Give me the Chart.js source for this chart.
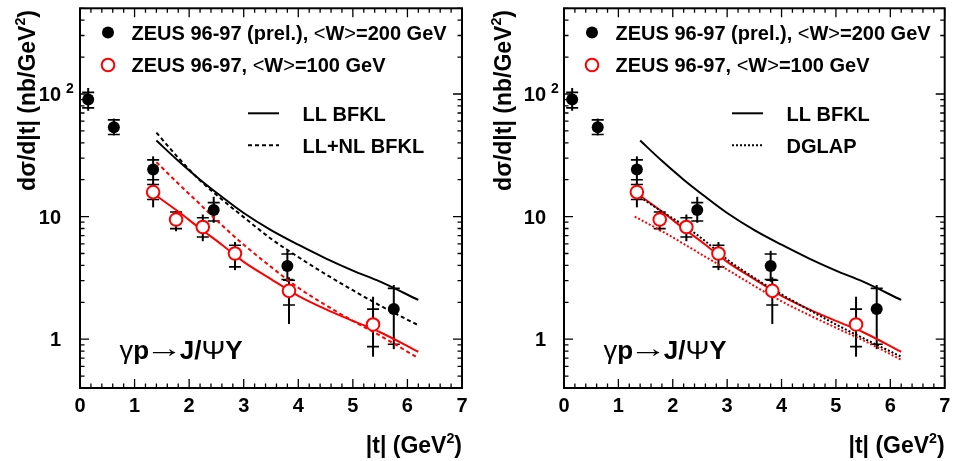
<!DOCTYPE html>
<html><head><meta charset="utf-8">
<script src="https://cdn.jsdelivr.net/npm/chart.js@4.4.0/dist/chart.umd.min.js"></script>
<style>
html,body{margin:0;padding:0;background:#fff;}
#wrap{position:relative;width:953px;height:461px;overflow:hidden;}
canvas{position:absolute;top:0;}
</style></head><body>
<div id="wrap">
<canvas id="c1" width="476" height="461" style="left:0px"></canvas>
<canvas id="c2" width="477" height="461" style="left:476px"></canvas>
</div>
<script>
// ---------- data ----------
// ZEUS 96-97 (prel.), <W>=200 GeV
const T_W200       = [0.15, 0.62, 1.34, 2.45, 3.80, 5.75];
const SIG_W200     = [90, 53.5, 24.2, 11.3, 3.95, 1.76];
const STAT_HI_W200 = [103, 61.5, 29, 13.0, 4.95, 2.6];
const STAT_LO_W200 = [77, 46.7, 20.0, 9.2, 3.07, 0.91];
const TOT_HI_W200  = [112, 63, 31, 14.5, 5.26, 2.77];
const TOT_LO_W200  = [73, 46, 18.5, 8.9, 2.94, 0.83];
// ZEUS 96-97, <W>=100 GeV
const T_W100       = [1.34, 1.76, 2.25, 2.84, 3.83, 5.37];
const SIG_W100     = [15.85, 9.46, 8.23, 5.0, 2.48, 1.32];
const STAT_HI_W100 = [18.3, 10.9, 9.8, 5.84, 3.03, 1.76];
const STAT_LO_W100 = [13.8, 7.98, 6.82, 3.89, 1.9, 0.87];
const TOT_HI_W100  = [18.8, 11.0, 10.4, 6.2, 3.2, 2.22];
const TOT_LO_W100  = [11.9, 7.6, 6.3, 3.66, 1.33, 0.72];
// theory curves
const T_CURVE        = [1.4, 1.8, 2.2, 2.6, 3.0, 3.5, 4.0, 4.5, 5.0, 5.5, 6.2];
const LL_BFKL_W200   = [41.7, 28.5, 20.0, 14.5, 10.7, 7.76, 5.9, 4.57, 3.63, 2.95, 2.09];
const LLNL_BFKL_W200 = [48.4, 30.2, 19.7, 13.8, 9.9, 6.6, 4.68, 3.39, 2.51, 1.88, 1.30];
const LL_BFKL_W100   = [14.8, 11.0, 8.0, 5.9, 4.27, 3.09, 2.26, 1.76, 1.41, 1.14, 0.79];
const LLNL_BFKL_W100 = [27.8, 18.6, 12.6, 8.5, 5.9, 3.89, 2.63, 1.9, 1.41, 1.07, 0.70];
const DGLAP_W200     = [14.4, 11.0, 8.5, 6.3, 4.47, 3.16, 2.32, 1.74, 1.32, 1.02, 0.72];
const T_DGLAP_W100   = [1.3, 1.8, 2.2, 2.6, 3.0, 3.5, 4.0, 4.5, 5.0, 5.5, 6.2];
const DGLAP_W100     = [10.0, 7.6, 6.0, 4.7, 3.7, 2.72, 2.04, 1.58, 1.24, 0.98, 0.68];
// axes
const X_MIN = 0, X_MAX = 7;
const X_TICKS = [0, 1, 2, 3, 4, 5, 6, 7];
const Y_MIN = 0.4, Y_MAX = 500;
const Y_TICKS = [1, 10, 100];
const Y_TICK_LABELS = [['1', ''], ['10', ''], ['10', '2']];
const LEGEND_W200 = 'ZEUS 96-97 (prel.), <W>=200 GeV';
const LEGEND_W100 = 'ZEUS 96-97, <W>=100 GeV';

// ---------- helpers ----------
const FAM = '"Liberation Sans", Arial, Helvetica, sans-serif';
function fnt(sz, bold) { return (bold === false ? '' : 'bold ') + sz + 'px ' + FAM; }
function drawRuns(ctx, runs, x, y, align, size) {
  let w = 0;
  const parts = runs.map(r => {
    const s = r.sup ? size * 0.62 : size;
    ctx.font = fnt(s, r.b);
    const sx = r.sx || 1;
    const m = ctx.measureText(r.t).width * sx + (r.pre || 0) + (r.post || 0);
    w += m;
    return { r, s, m, sx };
  });
  let cx = align === 'right' ? x - w : align === 'center' ? x - w / 2 : x;
  ctx.textAlign = 'left';
  ctx.textBaseline = 'alphabetic';
  parts.forEach(p => {
    ctx.font = fnt(p.s, p.r.b);
    const yy = y - (p.r.sup ? size * 0.45 : 0) - (p.r.dy || 0);
    ctx.save();
    ctx.translate(cx + (p.r.pre || 0), yy);
    ctx.scale(p.sx, 1);
    ctx.fillText(p.r.t, 0, 0);
    ctx.restore();
    cx += p.m;
  });
}
function legendRuns(txt) {
  const out = [];
  let buf = '';
  for (const ch of txt) {
    if (ch === '<' || ch === '>') { if (buf) out.push({ t: buf }); buf = ''; out.push({ t: ch, b: false }); }
    else buf += ch;
  }
  if (buf) out.push({ t: buf });
  return out;
}
function drawErrors(ctx, xs, ys, t, sHi, sLo, tHi, tLo) {
  for (let i = 0; i < t.length; i++) {
    const px = xs.getPixelForValue(t[i]);
    ctx.beginPath();
    ctx.moveTo(px, ys.getPixelForValue(tHi[i]));
    ctx.lineTo(px, ys.getPixelForValue(tLo[i]));
    ctx.lineWidth = 2;
    ctx.stroke();
    ctx.beginPath();
    [sHi[i], sLo[i]].forEach(v => {
      const py = ys.getPixelForValue(v);
      ctx.moveTo(px - 6, py); ctx.lineTo(px + 6, py);
    });
    ctx.lineWidth = 1.6;
    ctx.stroke();
  }
}

const PANEL = {};

const rootStyle = {
  id: 'rootStyle',
  beforeDatasetsDraw(chart) {
    const { ctx, scales: { x, y } } = chart;
    ctx.save();
    ctx.strokeStyle = '#000';
    drawErrors(ctx, x, y, T_W200, STAT_HI_W200, STAT_LO_W200, TOT_HI_W200, TOT_LO_W200);
    drawErrors(ctx, x, y, T_W100, STAT_HI_W100, STAT_LO_W100, TOT_HI_W100, TOT_LO_W100);
    ctx.restore();
  },
  afterDraw(chart) {
    const { ctx, chartArea: a, scales: { x, y } } = chart;
    const cfg = PANEL[chart.canvas.id];
    ctx.save();
    ctx.strokeStyle = '#000';
    ctx.fillStyle = '#000';
    // frame
    ctx.lineWidth = 2;
    ctx.strokeRect(a.left, a.top, a.right - a.left, a.bottom - a.top);
    // x ticks (inward, bottom and top)
    ctx.lineWidth = 1.3;
    ctx.beginPath();
    for (let k = 0; k <= (X_MAX - X_MIN) * 5; k++) {
      const v = X_MIN + k * 0.2;
      const px = x.getPixelForValue(v);
      const len = (k % 5 === 0) ? 9 : 4.5;
      ctx.moveTo(px, a.bottom); ctx.lineTo(px, a.bottom - len);
      ctx.moveTo(px, a.top); ctx.lineTo(px, a.top + len);
    }
    // y ticks (inward, left and right)
    for (let dec = 0.1; dec <= 100; dec *= 10) {
      for (let m = 1; m <= 9; m++) {
        const v = dec * m;
        if (v < Y_MIN - 1e-9 || v > Y_MAX + 1e-9) continue;
        const py = y.getPixelForValue(v);
        const len = (m === 1) ? 9 : 4.5;
        ctx.moveTo(a.left, py); ctx.lineTo(a.left + len, py);
        ctx.moveTo(a.right, py); ctx.lineTo(a.right - len, py);
      }
    }
    ctx.stroke();
    // x tick labels
    ctx.font = fnt(20);
    ctx.textAlign = 'center';
    ctx.textBaseline = 'alphabetic';
    X_TICKS.forEach(v => ctx.fillText(String(v), x.getPixelForValue(v), 412));
    // y tick labels
    Y_TICKS.forEach((v, i) => {
      const py = y.getPixelForValue(v);
      const [main, sup] = Y_TICK_LABELS[i];
      ctx.font = fnt(20);
      ctx.textAlign = 'right';
      ctx.fillText(main, a.left - cfg.ylabOff, py + 7.2);
      if (sup) {
        ctx.font = fnt(14);
        ctx.textAlign = 'left';
        ctx.fillText(sup, a.left - cfg.ylabOff + 5, py - 1);
      }
    });
    // axis titles
    drawRuns(ctx, [{ t: '|t| (GeV' }, { t: '2', sup: true }, { t: ')' }], a.right, 453, 'right', 23);
    ctx.save();
    ctx.translate(35, 10);
    ctx.rotate(-Math.PI / 2);
    drawRuns(ctx, [{ t: 'dσ/d|t| (nb/GeV' }, { t: '2', sup: true }, { t: ')' }], 0, 0, 'right', 23);
    ctx.restore();
    // data legend
    const lx = a.left + 28;
    ctx.beginPath(); ctx.arc(lx, 32.5, 6, 0, Math.PI * 2); ctx.fillStyle = '#000'; ctx.fill();
    ctx.beginPath(); ctx.arc(lx, 65, 6.3, 0, Math.PI * 2); ctx.fillStyle = '#fff'; ctx.fill();
    ctx.lineWidth = 2; ctx.strokeStyle = '#ff0000'; ctx.stroke();
    ctx.fillStyle = '#000';
    drawRuns(ctx, legendRuns(LEGEND_W200), a.left + 51.5, 39.7, 'left', 20);
    drawRuns(ctx, legendRuns(LEGEND_W100), a.left + 51.5, 72.2, 'left', 20);
    // curve legend
    cfg.lines.forEach((ln, i) => {
      const yy = 113.3 + i * 32;
      ctx.beginPath();
      ctx.setLineDash(ln.dash);
      ctx.lineWidth = ln.w;
      ctx.strokeStyle = '#000';
      ctx.moveTo(a.left + 168, yy); ctx.lineTo(a.left + 199, yy);
      ctx.stroke();
      ctx.setLineDash([]);
      drawRuns(ctx, [{ t: ln.label }], a.left + 222.5, yy + 7.2, 'left', 20);
    });
    // process label
    drawRuns(ctx, [
      { t: 'γ', b: false, sx: 1.05 }, { t: 'p' },
      { t: '→', b: false, sx: 1.45, dy: 2, pre: -3.5, post: -3.5 }, { t: 'J/' },
      { t: 'Ψ', b: false, sx: 1.1 }, { t: 'Y' }
    ], a.left + 39.5, 359, 'left', 26);
    ctx.restore();
  }
};

function pts(t, v) { return t.map((tt, i) => ({ x: tt, y: v[i] })); }
function curve(t, v, color, dash) {
  return {
    type: 'line', data: pts(t, v), borderColor: color, borderWidth: 2, borderDash: dash,
    pointRadius: 0, fill: false, cubicInterpolationMode: 'monotone', order: 5
  };
}
function pointSets() {
  return [
    { type: 'line', data: pts(T_W200, SIG_W200), showLine: false, pointRadius: 6, pointHoverRadius: 6,
      pointBackgroundColor: '#000', pointBorderColor: '#000', pointBorderWidth: 0, order: 1 },
    { type: 'line', data: pts(T_W100, SIG_W100), showLine: false, pointRadius: 6.3, pointHoverRadius: 6.3,
      pointBackgroundColor: '#fff', pointBorderColor: '#ff0000', pointBorderWidth: 2, order: 1 }
  ];
}
function makeChart(id, pad, curves, lines, ylabOff) {
  PANEL[id] = { lines, ylabOff };
  return new Chart(document.getElementById(id), {
    type: 'line',
    data: { datasets: pointSets().concat(curves) },
    options: {
      responsive: false, animation: false, devicePixelRatio: 1,
      layout: { padding: pad },
      plugins: { legend: { display: false }, tooltip: { enabled: false } },
      events: [],
      scales: {
        x: { type: 'linear', min: X_MIN, max: X_MAX, display: false },
        y: { type: 'logarithmic', min: Y_MIN, max: Y_MAX, display: false }
      }
    },
    plugins: [rootStyle]
  });
}

makeChart('c1', { left: 80, right: 14, top: 8, bottom: 73 }, [
  curve(T_CURVE, LL_BFKL_W200, '#000', []),
  curve(T_CURVE, LLNL_BFKL_W200, '#000', [4, 3]),
  curve(T_CURVE, LL_BFKL_W100, '#ff0000', []),
  curve(T_CURVE, LLNL_BFKL_W100, '#ff0000', [4, 3])
], [{ label: 'LL BFKL', dash: [], w: 2 }, { label: 'LL+NL BFKL', dash: [4, 3], w: 2 }], 19);

makeChart('c2', { left: 88, right: 8, top: 8, bottom: 73 }, [
  curve(T_CURVE, LL_BFKL_W200, '#000', []),
  curve(T_CURVE, DGLAP_W200, '#000', [2, 2]),
  curve(T_CURVE, LL_BFKL_W100, '#ff0000', []),
  curve(T_DGLAP_W100, DGLAP_W100, '#ff0000', [2, 2])
], [{ label: 'LL BFKL', dash: [], w: 2 }, { label: 'DGLAP', dash: [2, 2], w: 2 }], 18);
</script>
</body></html>
